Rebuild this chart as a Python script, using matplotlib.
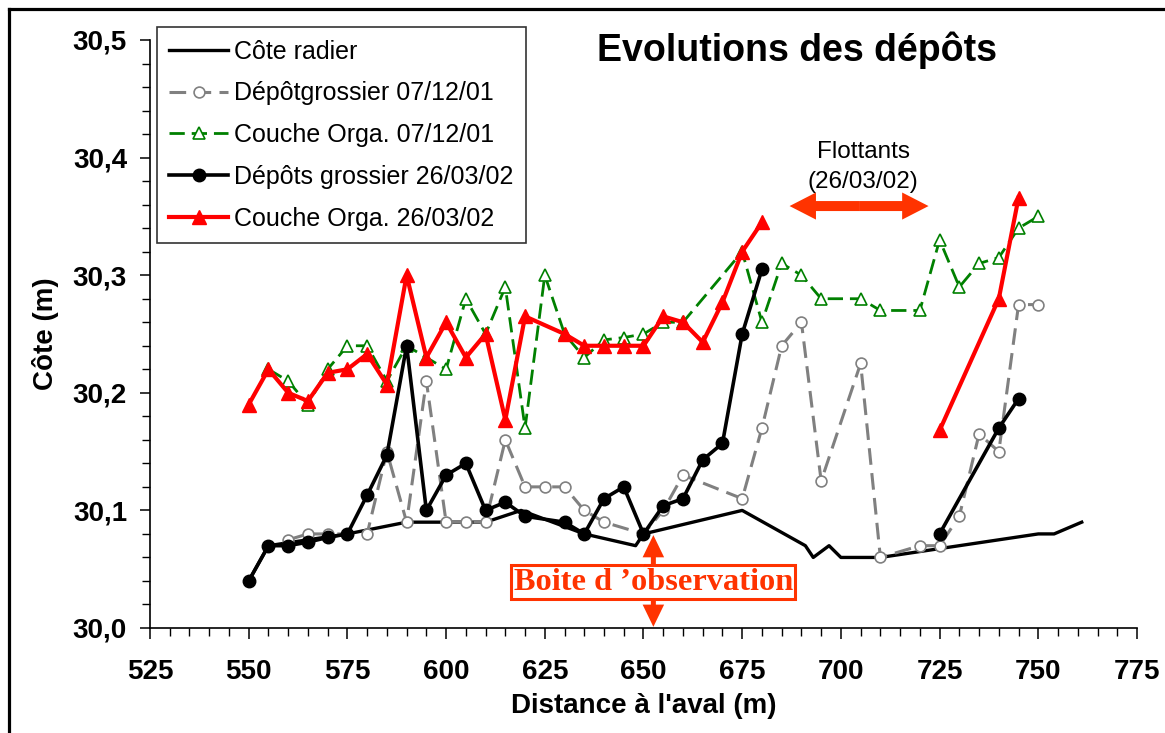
import numpy as np
import matplotlib
matplotlib.use("Agg")
import matplotlib.pyplot as plt
from matplotlib.patches import FancyArrowPatch, ArrowStyle
from matplotlib.lines import Line2D
from matplotlib.ticker import MultipleLocator, FuncFormatter

plt.rcParams['font.family'] = ['Liberation Sans', 'DejaVu Sans']
plt.rcParams['lines.scale_dashes'] = False

nan = np.nan

# Côte radier
radier_x = [550, 555, 575, 590, 610, 619, 635, 648, 650, 675, 691, 693, 697, 700, 710, 750, 754, 761]
radier_y = [30.04, 30.07, 30.08, 30.09, 30.09, 30.10, 30.08, 30.07, 30.08, 30.10, 30.07, 30.06, 30.07, 30.06, 30.06, 30.08, 30.08, 30.09]

# Dépôtgrossier 07/12/01
dg01_x = [560, 565, 570, 575, 580, 585, 590, 595, 600, 605, 610, 615, 620, 625, 630, 635, 640, 650,
          655, 660, 675, 680, 685, 690, 695, 705, 710, 720, 725, 730, 735, 740, 745, 750]
dg01_y = [30.075, 30.08, 30.08, 30.08, 30.08, 30.15, 30.09, 30.21, 30.09, 30.09, 30.09, 30.16, 30.12, 30.12, 30.12, 30.10, 30.09, 30.08,
          30.10, 30.13, 30.11, 30.17, 30.24, 30.26, 30.125, 30.225, 30.06, 30.07, 30.07, 30.095, 30.165, 30.15, 30.275, 30.275]

# Couche Orga. 07/12/01
co01_x = [555, 560, 565, 570, 575, 580, 585, 590, 595, 600, 605, 610, 615, 620, 625, 630, 635, 640, 645, 650,
          655, 660, 675, 680, 685, 690, 695, 705, 710, 720, 725, 730, 735, 740, 745, 750]
co01_y = [30.22, 30.21, 30.19, 30.22, 30.24, 30.24, 30.21, 30.24, 30.23, 30.22, 30.28, 30.25, 30.29, 30.17, 30.30, 30.25, 30.23, 30.245, 30.247, 30.25,
          30.26, 30.26, 30.32, 30.26, 30.31, 30.30, 30.28, 30.28, 30.27, 30.27, 30.33, 30.29, 30.31, 30.315, 30.34, 30.35]

# Dépôts grossier 26/03/02
dg02_x = [550, 555, 560, 565, 570, 575, 580, 585, 590, 595, 600, 605, 610, 615, 620, 630, 635, 640, 645, 650,
          655, 660, 665, 670, 675, 680, 700, 725, 740, 745]
dg02_y = [30.04, 30.07, 30.07, 30.073, 30.077, 30.08, 30.113, 30.147, 30.24, 30.10, 30.13, 30.14, 30.10, 30.107, 30.095, 30.09, 30.08, 30.11, 30.12, 30.08,
          30.104, 30.11, 30.143, 30.157, 30.25, 30.305, nan, 30.08, 30.17, 30.195]

# Couche Orga. 26/03/02
co02_x = [550, 555, 560, 565, 570, 575, 580, 585, 590, 595, 600, 605, 610, 615, 620, 630, 635, 640, 645, 650,
          655, 660, 665, 670, 675, 680, 700, 725, 740, 745]
co02_y = [30.19, 30.22, 30.20, 30.193, 30.217, 30.22, 30.233, 30.207, 30.30, 30.23, 30.26, 30.23, 30.25, 30.177, 30.265, 30.25, 30.24, 30.24, 30.24, 30.24,
          30.265, 30.26, 30.243, 30.277, 30.32, 30.345, nan, 30.168, 30.28, 30.366]

labels = ["Côte radier", "Dépôtgrossier 07/12/01", "Couche Orga. 07/12/01",
          "Dépôts grossier 26/03/02", "Couche Orga. 26/03/02"]

ORANGE = '#FF3300'

fig = plt.figure(figsize=(11.65, 7.33), dpi=100)
ax = fig.add_axes([150/1165, 1-628/733, 987/1165, 588/733])

ax.plot(radier_x, radier_y, color='black', lw=2.4, label=labels[0], zorder=3)
ax.plot(dg01_x, dg01_y, color='#808080', lw=2.2, dashes=(12, 6), marker='o', ms=7.8,
        mfc='white', mec='#808080', mew=1.2, label=labels[1], zorder=4)
ax.plot(co01_x, co01_y, color='#008000', lw=2.0, dashes=(11, 5), marker='^', ms=9,
        mfc='white', mec='#008000', mew=1.2, label=labels[2], zorder=5)
ax.plot(dg02_x, dg02_y, color='black', lw=2.6, marker='o', ms=9,
        mfc='black', mec='black', label=labels[3], zorder=6)
ax.plot(co02_x, co02_y, color='#FF0000', lw=3.0, marker='^', ms=10,
        mfc='#FF0000', mec='#FF0000', label=labels[4], zorder=7)

ax.set_xlim(525, 775)
ax.set_ylim(30.0, 30.5)
ax.xaxis.set_major_locator(MultipleLocator(25))
ax.xaxis.set_minor_locator(MultipleLocator(5))
ax.yaxis.set_major_locator(MultipleLocator(0.1))
ax.yaxis.set_minor_locator(MultipleLocator(0.02))
ax.yaxis.set_major_formatter(FuncFormatter(lambda v, p: f"{v:.1f}".replace('.', ',')))
ax.xaxis.set_major_formatter(FuncFormatter(lambda v, p: f"{v:.0f}"))

for s in ['top', 'right']:
    ax.spines[s].set_visible(False)
for s in ['left', 'bottom']:
    ax.spines[s].set_linewidth(1.2)

ax.tick_params(axis='x', which='major', direction='out', length=8, width=1.1, pad=14,
               labelsize=20)
ax.tick_params(axis='x', which='minor', direction='out', length=5.5, width=1.0)
ax.tick_params(axis='y', which='major', direction='out', length=7.5, width=1.1, pad=9,
               labelsize=20)
ax.tick_params(axis='y', which='minor', direction='out', length=6, width=1.0)
for t in ax.get_xticklabels() + ax.get_yticklabels():
    t.set_fontweight('bold')

ax.set_xlabel("Distance à l'aval (m)", fontsize=20, fontweight='bold', labelpad=6)
ax.set_ylabel("Côte (m)", fontsize=20, fontweight='bold', labelpad=10)

leg = ax.legend(loc='upper left', bbox_to_anchor=(0.007, 1.022), borderaxespad=0,
                fontsize=18, frameon=True, fancybox=False, shadow=False,
                handlelength=2.35, handletextpad=0.25, labelspacing=0.71,
                borderpad=0.5)
leg.get_frame().set_edgecolor('black')
leg.get_frame().set_linewidth(1.2)
leg.set_zorder(10)

fig.text(797/1165, 1-50/733, "Evolutions des dépôts", fontsize=27, fontweight='bold',
         ha='center', va='center')

# Flottants annotation
ax.text(705.6, 30.392, "Flottants\n(26/03/02)", fontsize=17.5, ha='center', va='center',
        linespacing=1.5)
mid = (687.0 + 722.2) / 2
simple = ArrowStyle.Simple(head_length=19, head_width=19.5, tail_width=7.2)
for end in (687.0, 722.2):
    ax.add_patch(FancyArrowPatch((mid, 30.3588), (end, 30.3588), arrowstyle=simple,
                                 mutation_scale=1, color=ORANGE, lw=0, shrinkA=0, shrinkB=0,
                                 zorder=8))

# Boite d'observation
vmid = 30.04
simple2 = ArrowStyle.Simple(head_length=16, head_width=15.5, tail_width=3.6)
for end in (30.079, 30.001):
    ax.add_patch(FancyArrowPatch((652.5, vmid), (652.5, end), arrowstyle=simple2,
                                 mutation_scale=1, color=ORANGE, lw=0, shrinkA=0, shrinkB=0,
                                 zorder=8))
ax.text(652.5, 30.0391, "Boite d \u2019observation", fontsize=23.3, fontweight='bold',
        family=['Liberation Serif', 'DejaVu Serif'], color=ORANGE, ha='center', va='center',
        zorder=9,
        bbox=dict(boxstyle='square,pad=0.07', facecolor='white', edgecolor=ORANGE, linewidth=2.2))

# outer frame (partially cropped)
fig.add_artist(Line2D([9/1165, 9/1165], [-0.01, 1-9/733], transform=fig.transFigure,
                      color='black', lw=2.3))
fig.add_artist(Line2D([9/1165, 1.01], [1-9/733, 1-9/733], transform=fig.transFigure,
                      color='black', lw=2.3))

fig.savefig("out.png", dpi=100)
